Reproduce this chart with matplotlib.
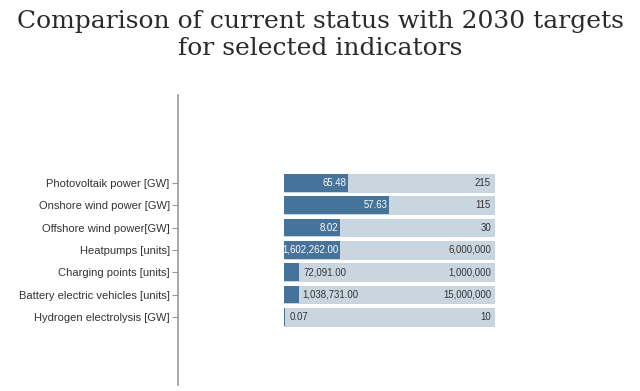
import matplotlib
matplotlib.use("Agg")
import matplotlib.pyplot as plt
from matplotlib.transforms import offset_copy

# data
indicators = [
    "Photovoltaik power [GW]",
    "Onshore wind power [GW]",
    "Offshore wind power[GW]",
    "Heatpumps [units]",
    "Charging points [units]",
    "Battery electric vehicles [units]",
    "Hydrogen electrolysis [GW]",
]
current = [65.48, 57.63, 8.02, 1602262.00, 72091.00, 1038731.00, 0.07]
target = [215, 115, 30, 6000000, 1000000, 15000000, 10]
current_labels = ["65.48", "57.63", "8.02", "1,602,262.00", "72,091.00", "1,038,731.00", "0.07"]
target_labels = ["215", "115", "30", "6,000,000", "1,000,000", "15,000,000", "10"]

DARK = "#46739a"
LIGHT = "#c9d6e0"
TEXT = "#333333"
AXIS = "#9a9a9a"

fig = plt.figure(figsize=(6.4, 3.91), dpi=100)
ax = fig.add_axes([178 / 640, 6 / 391, 422 / 640, 290 / 391])

ypos = list(range(len(indicators)))
share = [c / t for c, t in zip(current, target)]

ax.barh(ypos, [1.0] * len(ypos), height=0.79, color=LIGHT, edgecolor="#bccad6", linewidth=0.5)
ax.barh(ypos, share, height=0.79, color=DARK, linewidth=0)

val_font = dict(fontsize=6.9, family="Liberation Sans")
for y, s, cl, tl in zip(ypos, share, current_labels, target_labels):
    if s > 0.2:
        tr = offset_copy(ax.transData, fig=fig, x=-2, y=0, units="dots")
        ax.text(s, y, cl, transform=tr, ha="right", va="center", color="white", **val_font)
    else:
        tr = offset_copy(ax.transData, fig=fig, x=4, y=0, units="dots")
        ax.text(s, y, cl, transform=tr, ha="left", va="center", color=TEXT, **val_font)
    tr = offset_copy(ax.transData, fig=fig, x=-3, y=0, units="dots")
    ax.text(1.0, y, tl, transform=tr, ha="right", va="center", color=TEXT, **val_font)

ax.set_xlim(-0.505, 1.505)
ax.set_ylim(9.05, -3.94)
ax.set_yticks(ypos)
ax.set_yticklabels(indicators, fontsize=8, family="Liberation Sans", color=TEXT)
ax.tick_params(axis="y", length=4, width=0.8, color=AXIS, pad=2)
ax.set_xticks([])
for side in ["top", "right", "bottom"]:
    ax.spines[side].set_visible(False)
ax.spines["left"].set_color(AXIS)
ax.spines["left"].set_linewidth(1.2)

fig.text(0.5, 1 - 35 / 391, "Comparison of current status with 2030 targets\nfor selected indicators",
         ha="center", va="center", fontsize=18, family="DejaVu Serif", color="#2a2a2a",
         linespacing=1.25)

fig.savefig("out.png", dpi=100)
